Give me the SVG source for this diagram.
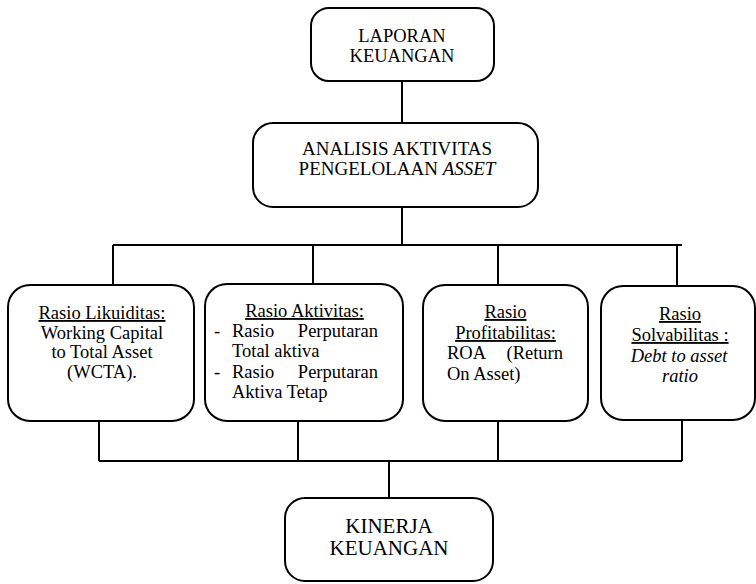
<svg xmlns="http://www.w3.org/2000/svg" width="756" height="584" viewBox="0 0 756 584">
<style>
.box{fill:#fff;stroke:#000;stroke-width:2}
.c{fill:none;stroke:#000;stroke-width:2}
text{font-family:"Liberation Serif","Times New Roman",serif;fill:#000;font-size:18.5px}
.m{text-anchor:middle}
.e{text-anchor:end}
.u{text-decoration:underline}
.i{font-style:italic}
</style>
<rect width="756" height="584" fill="#fff"/>
<g id="connectors">
<path class="c" d="M402 81V123M402 207V245M113 245H682M113 245V285M313 245V284M498 245V285M677 245V286"/>
<path class="c" d="M99 421V461M298 421V461M498 421V461M682 420V461M99 461H682M389 461V498"/>
</g>
<g id="laporan">
<rect class="box" x="311" y="8" width="183" height="73" rx="18"/>
<text class="m" x="402" y="42">LAPORAN</text>
<text class="m" x="402" y="62">KEUANGAN</text>
</g>
<g id="analisis">
<rect class="box" x="253" y="123" width="285" height="84" rx="20"/>
<text class="m" x="397" y="155" style="font-size:19px">ANALISIS AKTIVITAS</text>
<text class="m" x="397" y="174.5" style="font-size:19px">PENGELOLAAN <tspan class="i">ASSET</tspan></text>
</g>
<g id="likuiditas">
<rect class="box" x="8" y="285" width="186" height="136" rx="22"/>
<text class="m u" x="102" y="319">Rasio Likuiditas:</text>
<text class="m" x="102" y="338.5">Working Capital</text>
<text class="m" x="102" y="358">to Total Asset</text>
<text class="m" x="102" y="377.5">(WCTA).</text>
</g>
<g id="aktivitas">
<rect class="box" x="205" y="284" width="198" height="137" rx="22"/>
<text class="m u" x="304.5" y="317">Rasio Aktivitas:</text>
<text x="214" y="336.5">-</text>
<text x="232" y="336.5">Rasio</text>
<text class="e" x="378" y="336.5">Perputaran</text>
<text x="232" y="357">Total aktiva</text>
<text x="214" y="377.5">-</text>
<text x="232" y="377.5">Rasio</text>
<text class="e" x="378" y="377.5">Perputaran</text>
<text x="232" y="398">Aktiva Tetap</text>
</g>
<g id="profitabilitas">
<rect class="box" x="423" y="285" width="165" height="136" rx="22"/>
<text class="m u" x="505.5" y="318">Rasio</text>
<text class="m u" x="505.5" y="339">Profitabilitas:</text>
<text x="447" y="359">ROA</text>
<text class="e" x="563" y="359">(Return</text>
<text x="447" y="380">On Asset)</text>
</g>
<g id="solvabilitas">
<rect class="box" x="601" y="286" width="154" height="134" rx="22"/>
<text class="m u" x="680" y="320">Rasio</text>
<text class="m u" x="680" y="341">Solvabilitas :</text>
<text class="m i" x="679" y="362">Debt to asset</text>
<text class="m i" x="680" y="382">ratio</text>
</g>
<g id="kinerja">
<rect class="box" x="285" y="498" width="208" height="83" rx="20"/>
<text class="m" x="389" y="533" style="font-size:21px">KINERJA</text>
<text class="m" x="389" y="555" style="font-size:21px">KEUANGAN</text>
</g>
</svg>
